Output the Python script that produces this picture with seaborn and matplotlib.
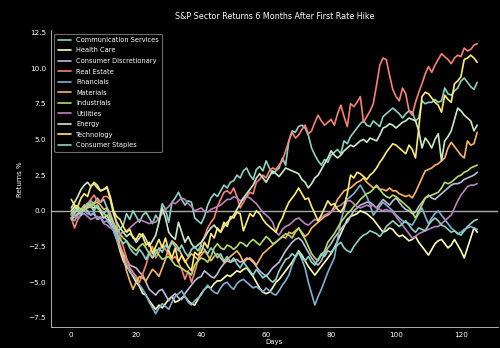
import numpy as np
import pandas as pd
import seaborn as sns
import matplotlib
matplotlib.use("Agg")
import matplotlib.pyplot as plt

sectors = ["Communication Services", "Health Care", "Consumer Discretionary", "Real Estate",
           "Financials", "Materials", "Industrials", "Utilities", "Energy", "Technology",
           "Consumer Staples"]

communication_services = [
    -0.3, -0.1, 0.2, -0.2, 0.4, 0.3, 0.7, 0.5, 0.9, 0.6,
    0.8, 0.2, -0.4, -0.9, -1.5, -1.3, -1.0, -0.2, -0.6, 0.0,
    -0.4, -0.8, -0.3, -0.1, -0.5, -0.9, -0.3, -0.7, 0.5, 0.1,
    -0.8, 0.6, 0.9, 1.3, 0.8, 0.4, 0.7, 0.6, -0.5, -0.7,
    -0.9, -0.4, 0.4, 0.9, 1.2, 1.0, 1.4, 1.8, 1.6, 2.0,
    2.1, 2.5, 2.3, 2.8, 3.0, 2.5, 2.2, 2.9, 3.1, 2.8,
    3.5, 3.0, 2.6, 2.8, 3.0, 3.7, 3.2, 4.9, 5.6, 5.5,
    5.9, 6.0, 5.8, 5.3, 4.4, 3.9, 3.5, 3.2, 3.6, 3.4,
    3.9, 4.1, 4.3, 4.0, 4.9, 4.7, 5.2, 5.5, 5.8, 6.1,
    6.3, 6.0, 5.9, 6.3, 6.1, 5.9, 6.6, 6.8, 7.0, 7.2,
    7.0, 6.8, 6.5, 6.8, 7.0, 6.9, 6.3, 6.5, 7.7, 7.5,
    7.6, 7.6, 7.8, 7.6, 7.7, 8.6, 8.2, 8.1, 8.4, 8.6,
    9.1, 9.3, 9.0, 8.7, 8.5, 9.0]

health_care = [
    0.0, 0.3, 0.1, -0.2, 0.2, 0.5, 0.3, 0.2, 0.4, -0.1,
    -0.5, -0.3, -0.8, -1.3, -2.0, -2.8, -3.5, -3.9, -4.2, -4.6,
    -5.0, -5.3, -5.8, -5.9, -6.3, -6.6, -6.9, -6.6, -6.8, -6.5,
    -6.2, -6.0, -6.4, -6.3, -6.1, -6.0, -6.3, -6.5, -6.6, -6.2,
    -5.8, -5.5, -5.3, -5.4, -5.1, -4.9, -4.9, -4.7, -4.5, -4.6,
    -4.4, -4.2, -4.3, -4.1, -4.0, -4.3, -4.6, -5.0, -5.4, -5.7,
    -5.8, -5.7, -5.4, -5.0, -4.8, -4.5, -4.2, -3.9, -3.6, -3.2,
    -2.8, -3.1, -3.5, -3.9, -4.2, -4.5, -4.2, -3.9, -3.6, -3.3,
    -3.0, -2.6, -2.1, -1.6, -1.1, -0.6, -0.4, -0.3, -0.2, 0.0,
    -0.1, -0.2, -0.4, -0.6, -0.9, -1.2, -1.5, -1.4, -1.2, -1.3,
    -1.6, -1.8, -1.7, -1.9, -2.1, -2.0, -1.8, -2.2, -2.5, -2.8,
    -3.1, -2.7, -2.3, -2.1, -2.0, -2.3, -2.6, -2.4, -2.0, -2.4,
    -2.8, -3.3, -2.6, -1.9, -1.2, -1.5]

consumer_discretionary = [
    -0.5, -0.4, -0.2, 0.0, 0.2, 0.0, -0.3, -0.2, -0.6, -0.5,
    -0.4, -0.6, -0.9, -1.4, -2.0, -2.5, -3.0, -3.4, -3.8, -3.9,
    -4.0, -4.3, -4.5, -5.0, -5.5, -5.7, -5.9, -5.6, -5.5, -5.9,
    -6.3, -6.0, -5.8, -6.1, -6.2, -5.8, -5.5, -5.2, -4.9, -4.7,
    -4.6, -4.2, -4.4, -4.6, -4.7, -4.4, -4.0, -3.7, -3.5, -3.6,
    -3.5, -3.4, -3.6, -3.5, -3.3, -3.4, -3.6, -3.9, -4.2, -4.4,
    -4.6, -4.3, -4.0, -3.8, -3.6, -3.2, -2.8, -2.5, -2.2, -2.0,
    -1.9, -2.1, -2.5, -2.9, -3.3, -3.6, -3.8, -3.5, -3.0, -2.6,
    -2.3, -1.9, -1.6, -1.3, -1.0, -0.8, -0.4, 0.0, 0.2, 0.4,
    0.5, 0.6, 0.6, 0.4, 0.2, 0.5, 0.8, 0.6, 0.4, 0.7,
    0.9, 0.6, 0.3, 0.1, 0.0, -0.2, -0.1, 0.3, 0.6, 0.9,
    1.1, 0.9, 0.8, 1.0, 1.2, 1.4, 1.6, 1.8, 1.9, 1.9,
    2.0, 2.2, 2.3, 2.4, 2.5, 2.7]

real_estate = [
    -0.5, -1.2, -0.6, -0.3, 0.2, 0.5, 0.8, 1.1, 0.7, 0.6,
    1.0, 1.0, 0.8, 0.0, -1.0, -1.8, -2.5, -3.3, -4.0, -4.3,
    -4.6, -5.0, -4.4, -3.8, -3.0, -2.5, -3.3, -2.9, -2.4, -2.7,
    -3.0, -3.4, -3.2, -3.6, -4.1, -4.8, -4.2, -5.0, -4.3, -3.5,
    -2.3, -1.8, -1.2, -0.8, -0.5, 0.3, 0.8, 1.3, 1.4, 1.2,
    1.6, 1.0, 0.2, 0.6, 1.0, 1.3, 1.2, 2.0, 2.2, 2.5,
    2.3, 2.8, 3.0, 2.9, 3.2, 3.5, 4.2, 4.9, 5.5, 5.1,
    5.3, 5.7, 6.0, 5.4, 5.6, 6.2, 6.7, 6.3, 6.0, 6.2,
    6.4, 6.0, 6.8, 7.4, 6.6, 5.9, 7.5, 7.3, 7.6, 8.0,
    6.2, 6.6, 7.0, 7.5, 8.8, 10.2, 10.7, 10.6, 9.5, 8.5,
    8.0, 7.7, 8.6, 8.2, 7.0, 6.7, 7.6, 8.3, 8.9, 9.6,
    10.1, 9.7, 10.2, 10.6, 11.0, 10.8, 10.6, 10.3, 10.7, 10.9,
    10.8, 11.4, 11.2, 11.3, 11.6, 11.7]

financials = [
    -0.5, -0.7, -0.3, -0.1, 0.0, -0.2, -0.3, -0.1, -0.6, -0.4,
    -0.8, -0.7, -1.0, -1.4, -2.0, -2.6, -3.2, -3.7, -4.3, -4.5,
    -4.8, -5.2, -5.5, -5.9, -6.4, -6.8, -7.2, -6.8, -6.5, -6.7,
    -6.9, -6.4, -6.0, -5.8, -5.6, -6.0, -6.4, -6.6, -6.3, -6.1,
    -5.9, -5.5, -5.2, -5.5, -5.7, -5.8, -5.4, -5.1, -5.0, -5.3,
    -5.5, -5.1, -4.9, -4.8, -5.0, -5.2, -5.4, -5.3, -5.5, -5.7,
    -5.4, -5.6, -5.8, -5.9, -5.6, -5.2, -4.9, -4.5, -3.8, -3.3,
    -2.9, -3.4, -4.0, -5.0, -5.8, -6.6, -6.0, -5.5, -4.9, -4.3,
    -3.8, -3.3, -2.0, -0.7, 0.1, 0.8, 1.0, 1.2, 1.5, 1.8,
    1.4, 1.0, 0.4, -0.3, 0.0, 0.3, 0.6, 0.4, 0.2, 0.0,
    -0.3, -0.5, -0.7, -0.8, -0.9, -1.0, -0.6, -0.2, 0.2, -0.4,
    -0.9, -0.5, -0.2, 0.0, -0.3, -0.6, -0.9, -1.2, -1.4, -1.6,
    -1.5, -1.3, -1.2, -1.1, -1.2, -1.3]

materials = [
    -0.6, -0.4, -0.2, 0.1, 0.4, 0.2, 0.3, 0.5, 0.6, 0.4,
    0.1, 0.2, -0.2, -0.8, -1.5, -2.4, -3.2, -4.2, -4.9, -5.5,
    -5.0, -4.6, -4.7, -4.9, -4.5, -4.1, -4.3, -4.6, -4.0, -3.4,
    -2.6, -2.1, -2.3, -2.6, -3.1, -3.6, -3.3, -3.0, -3.2, -3.4,
    -3.1, -2.8, -3.1, -3.5, -3.2, -3.0, -3.3, -3.6, -3.4, -3.2,
    -3.0, -2.8, -3.1, -3.6, -3.4, -3.3, -3.5, -3.8, -3.4, -3.0,
    -2.8, -2.6, -2.4, -2.2, -2.0, -1.8, -1.9, -1.5, -1.6, -1.4,
    -1.2, -1.5, -1.8, -1.6, -1.2, -1.0, -0.8, -0.6, -0.4, -0.3,
    -0.1, 0.3, 0.8, 1.1, 1.4, 1.5, 1.6, 1.8, 2.0, 2.1,
    2.3, 2.0, 1.8, 1.6, 1.7, 1.5, 1.5, 1.4, 1.6, 1.4,
    1.4, 1.2, 1.1, 1.0, 1.1, 0.9, 1.3, 1.8, 2.3, 2.8,
    2.9, 3.0, 3.2, 3.3, 3.5, 3.7, 4.4, 4.8, 4.5, 4.2,
    3.9, 3.7, 4.9, 4.6, 4.7, 5.5]

industrials = [
    -0.2, 0.1, 0.3, 0.1, 0.0, 0.3, 0.5, 0.4, 0.2, 0.0,
    -0.2, -0.4, -0.6, -0.9, -1.2, -1.6, -1.9, -2.1, -2.4, -2.6,
    -2.8, -2.5, -2.3, -2.6, -3.0, -3.3, -2.7, -3.1, -3.4, -3.3,
    -3.2, -3.5, -3.8, -3.9, -4.0, -4.2, -4.3, -4.5, -3.8, -3.5,
    -3.3, -3.4, -3.6, -3.2, -2.6, -2.3, -2.6, -2.7, -2.4, -2.5,
    -2.7, -2.5, -2.2, -2.3, -2.5, -2.2, -2.0, -2.2, -2.4, -2.1,
    -1.8, -2.0, -2.3, -2.2, -2.0, -1.8, -1.6, -1.7, -1.9, -1.5,
    -1.2, -1.6, -2.0, -2.5, -3.0, -3.3, -3.5, -3.1, -2.8, -2.2,
    -1.9, -1.6, -1.2, -0.8, -0.5, -0.2, 0.0, 0.3, 0.5, 0.8,
    1.0, 1.2, 1.3, 1.5, 1.8, 1.5, 1.2, 1.0, 0.9, 1.1,
    1.0, 0.8, 0.6, 0.4, 0.2, -0.1, -0.5, 0.0, 0.4, 0.9,
    1.0, 1.1, 1.2, 1.3, 1.6, 2.0, 1.9, 2.0, 2.2, 2.4,
    2.5, 2.7, 2.8, 3.0, 3.1, 3.2]

utilities = [
    -0.3, -0.4, -0.5, -0.3, -0.2, -0.4, -0.6, -0.5, -0.4, -0.5,
    -0.9, -1.0, -1.2, -1.3, -1.5, -1.6, -1.5, -1.4, -1.2, -1.0,
    -0.8, -0.6, -0.7, -0.8, -0.9, -0.8, -0.8, -0.5, -0.2, 0.1,
    0.3, 0.6, 0.5, 0.7, 0.9, 0.8, 0.5, 0.3, 0.0, 0.1,
    0.2, 0.0, -0.1, 0.1, 0.2, 0.3, 0.4, 0.6, 0.8, 0.8,
    1.0, 0.9, 0.7, 0.8, 1.0, 0.9, 0.7, 0.5, 0.2, -0.1,
    -0.3, -0.5, -0.8, -1.5, -1.7, -1.3, -1.1, -1.0, -0.8, -0.6,
    -0.5, -0.7, -0.9, -1.0, -0.8, -0.6, -0.7, -0.5, -0.3, -0.2,
    -0.1, 0.1, 0.3, 0.4, 0.6, 0.7, 0.7, 0.5, 0.3, 0.2,
    0.3, 0.4, 0.3, 0.4, 0.2, 0.1, 0.0, 0.1, 0.0, -0.1,
    -0.4, -0.7, -1.0, -1.3, -1.6, -1.9, -1.8, -1.6, -1.5, -1.4,
    -1.3, -1.2, -1.1, -1.1, -0.9, -0.7, -0.5, -0.3, 0.2, 0.7,
    1.1, 1.4, 1.7, 1.8, 1.8, 1.9]

energy = [
    0.2, 0.6, 1.0, 1.5, 1.8, 2.0, 1.7, 1.9, 1.6, 1.4,
    1.5, 1.7, 0.8, -0.2, -0.8, -1.2, -1.5, -1.8, -1.6, -1.8,
    -2.2, -1.9, -1.6, -2.0, -2.5, -2.1, -1.7, -0.8, 0.2, -0.5,
    -1.5, -1.8, -2.0, -0.8, -1.5, -2.2, -1.8, -2.3, -2.6, -2.4,
    -2.2, -1.9, -1.5, -1.2, -1.0, -1.3, -1.5, -1.1, -0.8, -0.6,
    -0.3, 0.1, 0.5, 0.9, 1.2, 1.5, 1.8, 2.3, 2.6, 2.3,
    2.0, 2.4, 2.8, 2.6, 2.4, 2.7, 3.0, 2.9, 2.8, 2.7,
    2.6, 2.2, 2.0, 1.6, 1.9, 2.3, 2.5, 2.9, 3.3, 3.7,
    4.2, 3.9, 3.7, 3.9, 4.2, 4.4, 4.6, 4.5, 4.7, 4.9,
    5.0, 4.8, 5.1, 5.0, 4.9, 5.3, 5.8, 5.9, 6.1, 6.0,
    5.8, 6.0, 6.2, 6.3, 6.5, 6.4, 6.3, 5.6, 4.4, 5.1,
    4.8, 4.4, 5.0, 5.4, 3.5, 4.9, 5.2, 5.6, 6.4, 7.2,
    7.0, 6.7, 6.5, 6.3, 5.6, 6.0]

technology = [
    0.8, 0.4, 0.3, 0.9, 1.2, 1.0, 1.7, 2.0, 1.8, 1.4,
    1.5, 1.6, 1.0, 0.0, -0.4, -0.6, -1.1, -1.5, -1.3, -1.9,
    -2.0, -1.6, -1.8, -2.4, -2.2, -3.0, -2.5, -2.0, -2.6, -1.9,
    -2.8, -3.3, -2.6, -3.6, -3.1, -3.5, -3.9, -4.2, -2.9, -3.1,
    -2.9, -2.2, -2.6, -1.6, -1.9, -1.2, -1.5, -0.8, -1.1, -0.4,
    -0.5, -0.1, -0.2, -1.4, -0.8, -0.2, -0.4, 0.0, -0.2, -0.6,
    -0.9, -1.1, -1.3, -1.5, -0.9, -0.5, 0.1, 0.6, 0.9, 1.2,
    1.6, 1.2, 0.8, 0.9, 0.3, -0.2, -0.7, -0.3, 0.2, 0.7,
    0.4, 0.5, 0.1, -0.1, 0.3, 1.2, 2.5, 2.3, 2.7, 2.6,
    2.4, 2.2, 2.5, 2.7, 3.0, 3.4, 3.7, 4.1, 4.4, 4.7,
    4.6, 4.4, 4.2, 4.0, 4.6, 4.3, 3.7, 5.8, 8.0, 8.3,
    8.2, 7.9, 7.6, 7.4, 6.9, 8.1, 7.8, 7.6, 8.9, 9.1,
    9.4, 10.6, 10.7, 10.9, 10.7, 10.4]

consumer_staples = [
    -0.5, -0.2, 0.1, -0.3, 0.2, 0.5, 0.3, 0.0, 0.4, 0.1,
    -0.2, 0.1, -0.5, -1.0, -1.6, -2.0, -2.3, -2.1, -2.6, -2.9,
    -3.1, -2.7, -3.0, -3.4, -2.9, -3.3, -3.0, -2.6, -2.9, -2.4,
    -2.7, -2.2, -2.5, -2.8, -2.4, -2.9, -3.2, -2.7, -2.5, -2.8,
    -2.4, -2.7, -3.0, -2.6, -2.9, -3.3, -3.0, -3.5, -3.2, -3.6,
    -3.3, -3.7, -4.0, -3.6, -3.9, -4.2, -4.5, -4.1, -4.4, -4.7,
    -4.5, -4.8, -5.0, -4.8, -4.2, -3.8, -3.4, -3.3, -3.0, -3.2,
    -2.9, -3.3, -3.5, -3.2, -3.6, -3.8, -3.4, -3.0, -3.2, -2.8,
    -2.9, -2.6, -2.4, -2.2, -2.6, -2.8, -2.9, -2.5, -2.2, -1.9,
    -1.7, -1.6, -1.4, -1.5, -1.6, -1.8, -1.5, -1.1, -0.9, -0.7,
    -0.9, -1.1, -0.9, -0.7, -1.0, -1.3, -1.5, -1.2, -1.3, -1.4,
    -1.0, -0.7, -0.5, -0.7, -1.0, -1.1, -1.3, -1.5, -1.4, -1.6,
    -1.7, -1.4, -1.1, -0.9, -0.7, -0.6]

series = [communication_services, health_care, consumer_discretionary, real_estate,
          financials, materials, industrials, utilities, energy, technology,
          consumer_staples]

colors = ['#8dd3c7', '#feffb3', '#bfbbd9', '#fa8174', '#81b1d2', '#fdb462',
          '#b3de69', '#bc82bd', '#ccebc4', '#ffed6f', '#8dd3c7']

rows = []
for name, vals in zip(sectors, series):
    for d, v in enumerate(vals):
        rows.append((d, v, name))
df = pd.DataFrame(rows, columns=["Days", "Returns %", "Sector"])

sns.set_theme(style="dark")
plt.style.use("dark_background")
plt.rcParams['font.family'] = ['DejaVu Sans']

fig = plt.figure(figsize=(5.0, 3.48), dpi=100)
ax = fig.add_axes([0.102, 0.060, 0.893, 0.853])
sns.lineplot(data=df, x="Days", y="Returns %", hue="Sector", hue_order=sectors,
             palette=colors, linewidth=1.2, ax=ax)
ax.axhline(0, color="#aaaaaa", linewidth=1.0, zorder=0)
ax.set_title("S&P Sector Returns 6 Months After First Rate Hike", fontsize=5.8, pad=8)
ax.set_xlabel("Days", fontsize=5.0, labelpad=1)
ax.set_ylabel("Returns %", fontsize=5.0, labelpad=4)
ax.tick_params(labelsize=5.2, length=2.0, width=0.6, pad=1.5)
ax.set_yticks([-7.5, -5.0, -2.5, 0.0, 2.5, 5.0, 7.5, 10.0, 12.5])
ax.set_xticks([0, 20, 40, 60, 80, 100, 120])
ax.set_facecolor("black")
for s in ["top", "right"]:
    ax.spines[s].set_visible(False)
for s in ["left", "bottom"]:
    ax.spines[s].set_color("#cccccc")
    ax.spines[s].set_linewidth(0.6)
ax.grid(False)
leg = ax.legend(loc="upper left", fontsize=4.8, frameon=True, borderaxespad=0.5,
                handlelength=2.0, labelspacing=0.68, borderpad=0.5)
leg.get_frame().set_edgecolor("#888888")
leg.get_frame().set_facecolor("black")
leg.get_frame().set_linewidth(0.8)
fig.savefig("out.png", dpi=100, facecolor="black")
